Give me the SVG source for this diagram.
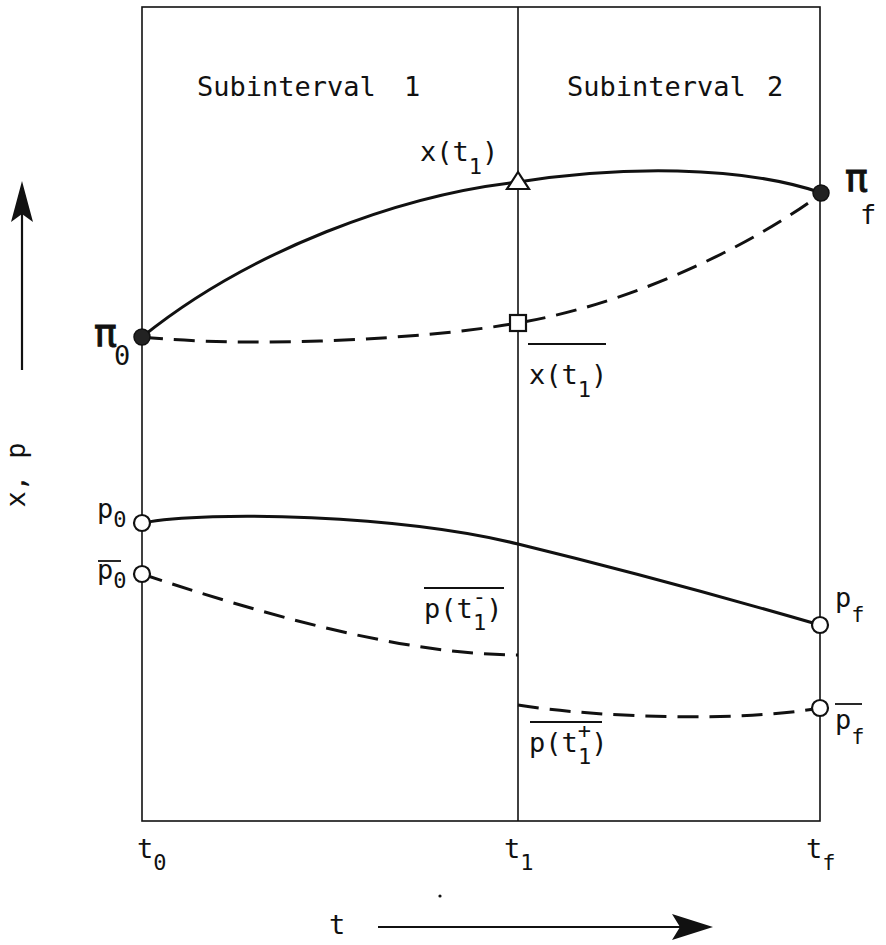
<svg xmlns="http://www.w3.org/2000/svg" width="886" height="945" viewBox="0 0 886 945">
<defs>
<style>
.frame{fill:none;stroke:#111;stroke-width:1.6}
.curve{fill:none;stroke:#111;stroke-width:3;stroke-linecap:round}
.dash{fill:none;stroke:#111;stroke-width:3;stroke-dasharray:21 11}
.open{fill:#fff;stroke:#111;stroke-width:2.2}
.dot{fill:#222;stroke:#111;stroke-width:1.5}
.t{font-family:"DejaVu Sans Mono","Liberation Mono",monospace;fill:#111}
.big{font-size:27px}
.lab{font-size:27px}
.sub{font-size:22px}
.pi{font-family:"DejaVu Sans","Liberation Sans",sans-serif;font-size:38px;fill:#111;stroke:#111;stroke-width:1}
.pisub{font-family:"DejaVu Sans Mono","Liberation Mono",monospace;font-size:27px;stroke:none}
.ov{stroke:#111;stroke-width:1.8}
</style>
</defs>
<g id="frame">
<rect class="frame" x="142" y="7" width="678" height="814"/>
<line class="frame" x1="518" y1="7" x2="518" y2="821"/>
</g>
<g id="titles">
<text class="t big" x="197" y="96">Subinterval</text>
<text class="t big" x="404" y="96">1</text>
<text class="t big" x="567" y="96">Subinterval</text>
<text class="t big" x="767" y="96">2</text>
</g>
<g id="connectors">
<path id="x-solid" class="curve" d="M142,337 C250,250 400,195 518,182 C620,166 740,165 822,193"/>
<path id="x-dashed" class="dash" d="M142,337 C250,348 420,340 518,323 C640,302 760,240 822,193"/>
<path id="p-solid" class="curve" d="M142,523 C210,510 400,515 518,544 C600,564 720,596 820,625"/>
<path id="p-dashed-1" class="dash" d="M142,574 C250,610 400,655 518,655"/>
<path id="p-dashed-2" class="dash" d="M518,705 C600,718 740,722 820,708"/>
</g>
<g id="node-pi0">
<circle class="dot" cx="142" cy="337" r="8"/>
<text class="pi" x="94" y="346">π<tspan class="pisub" dx="-3" dy="19">0</tspan></text>
</g>
<g id="node-pif">
<circle class="dot" cx="821" cy="193" r="8"/>
<text class="pi" x="845" y="191">π<tspan class="pisub" dx="-8" dy="33">f</tspan></text>
</g>
<g id="node-xt1">
<polygon class="open" points="518,172 507,189 529,189"/>
<text class="t lab" x="420" y="161">x(t<tspan class="sub" dy="13">1</tspan><tspan dy="-13">)</tspan></text>
</g>
<g id="node-xt1bar">
<rect class="open" x="510" y="315" width="16" height="16"/>
<line class="ov" x1="528" y1="344" x2="606" y2="344"/>
<text class="t lab" x="529" y="384">x(t<tspan class="sub" dy="13">1</tspan><tspan dy="-13">)</tspan></text>
</g>
<g id="node-p0">
<circle class="open" cx="142" cy="523" r="8"/>
<text class="t lab" x="97" y="518">p<tspan class="sub" dy="9">0</tspan></text>
</g>
<g id="node-p0bar">
<circle class="open" cx="142" cy="574" r="8"/>
<line class="ov" x1="98" y1="561" x2="121" y2="561"/>
<text class="t lab" x="97" y="579">p<tspan class="sub" dy="9">0</tspan></text>
</g>
<g id="node-pt1minus">
<line class="ov" x1="424" y1="588" x2="504" y2="588"/>
<text class="t lab" x="424" y="618">p(t<tspan class="sub" dy="-14">-</tspan><tspan class="sub" dx="-13" dy="26">1</tspan><tspan dy="-12">)</tspan></text>
</g>
<g id="node-pt1plus">
<line class="ov" x1="530" y1="722" x2="602" y2="722"/>
<text class="t lab" x="529" y="752">p(t<tspan class="sub" dy="-14">+</tspan><tspan class="sub" dx="-13" dy="26">1</tspan><tspan dy="-12">)</tspan></text>
</g>
<g id="node-pf">
<circle class="open" cx="820" cy="625" r="8"/>
<text class="t lab" x="835" y="607">p<tspan class="sub" dy="15">f</tspan></text>
</g>
<g id="node-pfbar">
<circle class="open" cx="820" cy="708" r="8"/>
<line class="ov" x1="835" y1="704" x2="862" y2="704"/>
<text class="t lab" x="835" y="729">p<tspan class="sub" dy="15">f</tspan></text>
</g>
<g id="axis-labels">
<text class="t lab" x="137" y="858">t<tspan class="sub" dy="12">0</tspan></text>
<text class="t lab" x="504" y="858">t<tspan class="sub" dy="12">1</tspan></text>
<text class="t lab" x="806" y="858">t<tspan class="sub" dy="12">f</tspan></text>
<text class="t lab" x="25" y="475" text-anchor="middle" transform="rotate(-90 25 475)">x, p</text>
</g>
<g id="axis-arrows">
<line x1="22" y1="370" x2="22" y2="205" stroke="#111" stroke-width="2.2"/>
<path d="M22,181 L33,222 L22,214 L11,222 Z" fill="#111"/>
<text class="t lab" x="329" y="934">t</text>
<line x1="378" y1="927" x2="690" y2="927" stroke="#111" stroke-width="2.2"/>
<path d="M713,927 L672,914 L680,927 L672,940 Z" fill="#111"/>
<circle cx="440" cy="896" r="1.6" fill="#111"/>
</g>
</svg>
